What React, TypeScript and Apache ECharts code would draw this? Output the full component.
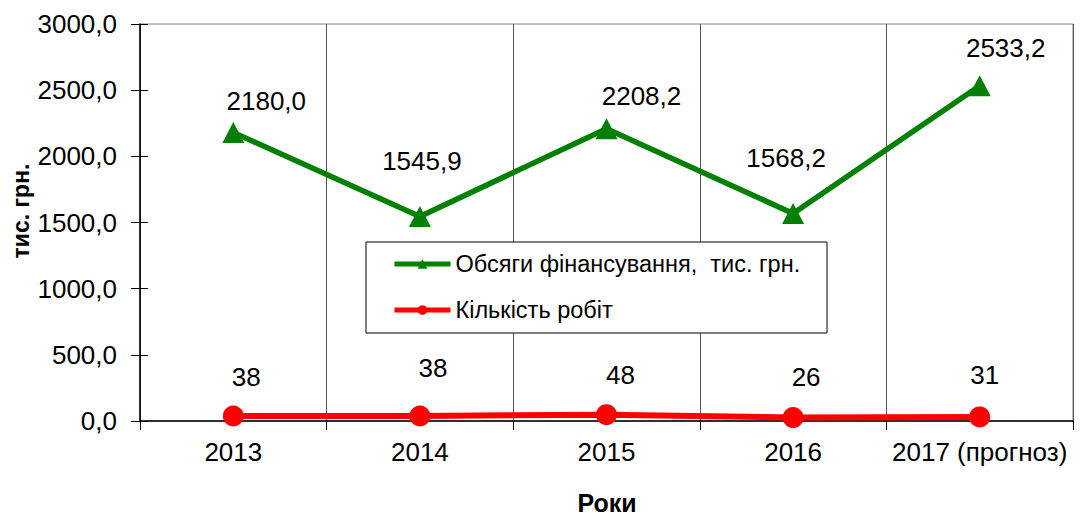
import React, { useEffect, useRef } from "react";
import * as echarts from "echarts";

const years = ["2013", "2014", "2015", "2016", "2017 (прогноз)"];
const fundingValues = [2180.0, 1545.9, 2208.2, 1568.2, 2533.2];
const worksCount = [38, 38, 48, 26, 31];
const fundingName = "Обсяги фінансування,  тис. грн.";
const worksName = "Кількість робіт";
const yAxisTitle = "тис. грн.";
const xAxisTitle = "Роки";
const yMin = 0;
const yMax = 3000;
const yStep = 500;

// label placement (styling, not data)
const fundingLabelOffsets = [[33, -32], [2, -55], [35, -33], [-7, -55], [26, -38]];
const worksLabelOffsets = [[13, -39], [13, -48], [14, -40], [13, -41], [5, -42]];

const FONT = "Liberation Sans, Arial, sans-serif";
const comma1 = (v: number) => v.toFixed(1).replace(".", ",");

export default function App() {
  const ref = useRef<HTMLDivElement>(null);
  useEffect(() => {
    if (!ref.current) return;
    const chart = echarts.init(ref.current, undefined, { renderer: "svg" });
    const option: any = {
      animation: false,
      backgroundColor: "#fff",
      textStyle: { fontFamily: FONT },
      grid: {
        left: 140,
        right: 9,
        top: 24,
        bottom: 97,
        show: true,
        borderColor: "#808080",
        borderWidth: 1,
        containLabel: false,
      },
      xAxis: {
        type: "category",
        data: years,
        boundaryGap: true,
        axisLine: { lineStyle: { color: "#000", width: 1.5 } },
        axisTick: { show: true, interval: 0, length: 9, lineStyle: { color: "#000" } },
        axisLabel: { color: "#000", fontSize: 26, margin: 18, interval: 0, fontFamily: FONT },
        splitLine: { show: true, interval: 0, lineStyle: { color: "#555", width: 1 } },
      },
      yAxis: [
        {
          type: "value",
          min: yMin,
          max: yMax,
          interval: yStep,
          position: "left",
          axisLine: { show: true, lineStyle: { color: "#000", width: 1.5 } },
          axisTick: { show: true, length: 9, lineStyle: { color: "#000" } },
          axisLabel: {
            color: "#000",
            fontSize: 26,
            margin: 23,
            fontFamily: FONT,
            formatter: (v: number) => comma1(v),
          },
          splitLine: { show: false },
        },
        {
          type: "value",
          min: yMin,
          max: yMax,
          interval: yStep,
          position: "left",
          offset: 0,
          axisLine: { show: false },
          axisTick: { show: true, inside: true, length: 8, lineStyle: { color: "#000" } },
          axisLabel: { show: false },
          splitLine: { show: false },
        },
      ],
      legend: {
        orient: "vertical",
        left: 392,
        top: 252,
        padding: 0,
        itemWidth: 56,
        itemHeight: 12,
        itemGap: 22,
        z: 10,
        lineStyle: { width: 5 },
        textStyle: { fontSize: 23.5, lineHeight: 24, color: "#000", fontFamily: FONT },
        data: [fundingName, worksName],
      },
      graphic: [
        {
          type: "rect",
          z: 5,
          shape: { x: 366, y: 242, width: 461, height: 91 },
          style: { fill: "#fff", stroke: "#000", lineWidth: 1 },
        },
        {
          type: "text",
          x: 21,
          y: 211,
          rotation: Math.PI / 2,
          style: {
            text: yAxisTitle,
            font: `bold 23px ${FONT}`,
            fill: "#000",
            align: "center",
            verticalAlign: "middle",
          },
        },
        {
          type: "text",
          x: 607,
          y: 503,
          style: {
            text: xAxisTitle,
            font: `bold 25px ${FONT}`,
            fill: "#000",
            align: "center",
            verticalAlign: "middle",
          },
        },
      ],
      series: [
        {
          name: fundingName,
          type: "line",
          yAxisIndex: 0,
          symbol: "triangle",
          symbolSize: [22, 21],
          itemStyle: { color: "#008000" },
          lineStyle: { color: "#008000", width: 5.5 },
          label: {
            show: true,
            position: "inside",
            fontSize: 26,
            color: "#000",
            fontFamily: FONT,
            formatter: (p: any) => comma1(p.value),
          },
          data: fundingValues.map((v, i) => ({
            value: v,
            label: { offset: fundingLabelOffsets[i] },
          })),
        },
        {
          name: worksName,
          type: "line",
          yAxisIndex: 0,
          symbol: "circle",
          symbolSize: 21,
          itemStyle: { color: "#ff0000" },
          lineStyle: { color: "#ff0000", width: 6 },
          label: {
            show: true,
            position: "inside",
            fontSize: 26,
            color: "#000",
            fontFamily: FONT,
            formatter: (p: any) => String(p.value),
          },
          data: worksCount.map((v, i) => ({
            value: v,
            label: { offset: worksLabelOffsets[i] },
          })),
        },
      ],
    };
    chart.setOption(option);
    return () => chart.dispose();
  }, []);
  return (
    <div
      ref={ref}
      style={{ position: "fixed", left: 0, top: 0, width: 1082, height: 518 }}
    />
  );
}
